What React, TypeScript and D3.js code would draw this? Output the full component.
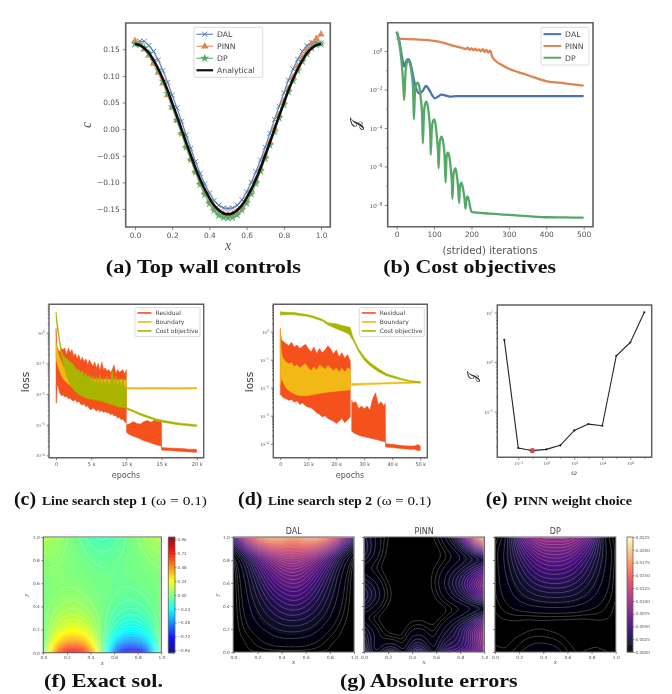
import { useEffect, useRef } from 'react';
import * as d3 from 'd3';

// (a) top wall controls
const wallX = [0,.025,.05,.075,.1,.125,.15,.175,.2,.225,.25,.275,.3,.325,.35,.375,.4,.425,.45,.475,.5,.525,.55,.575,.6,.625,.65,.675,.7,.725,.75,.775,.8,.825,.85,.875,.9,.925,.95,.975,1];
const wallDAL = [.160,.165,.165,.157,.146,.130,.110,.088,.064,.040,.015,-.011,-.036,-.061,-.083,-.103,-.120,-.134,-.143,-.148,-.149,-.148,-.143,-.133,-.118,-.100,-.080,-.058,-.034,-.008,.018,.043,.068,.092,.113,.131,.146,.157,.163,.164,.162];
const wallPINN = [.166,.160,.150,.138,.123,.106,.086,.064,.041,.017,-.007,-.032,-.056,-.079,-.100,-.118,-.134,-.147,-.155,-.159,-.160,-.159,-.155,-.146,-.132,-.115,-.095,-.073,-.049,-.024,.002,.027,.052,.076,.098,.118,.135,.148,.160,.170,.178];
const wallDP = [.160,.158,.153,.143,.129,.111,.090,.067,.042,.017,-.008,-.034,-.058,-.081,-.104,-.123,-.140,-.153,-.162,-.166,-.167,-.166,-.161,-.152,-.139,-.122,-.102,-.079,-.055,-.030,-.005,.021,.046,.070,.091,.110,.127,.141,.152,.158,.160];
const wallExact = [.160,.158,.152,.143,.129,.113,.094,.073,.049,.025,0,-.025,-.049,-.073,-.094,-.113,-.129,-.143,-.152,-.158,-.160,-.158,-.152,-.143,-.129,-.113,-.094,-.073,-.049,-.025,0,.025,.049,.073,.094,.113,.129,.143,.152,.158,.160];

// (b) cost objectives, log10 J
const dalIter = [0,5,10,15,20,25,30,35,40,45,50,60,70,78,85,95,102,110,120,130,142,160,200,300,400,500];
const dalLog = [1,.7,.2,-.4,-.8,-.55,-.43,-.52,-.9,-1.4,-1.82,-2.2,-2.07,-1.82,-1.96,-2.3,-2.46,-2.38,-2.27,-2.31,-2.37,-2.34,-2.34,-2.34,-2.34,-2.34];
const pinnIter = [0,50,100,125,150,175,185,190,195,200,205,210,215,220,225,230,235,240,245,250,255,265,280,300,325,350,375,400,450,500];
const pinnLog = [.64,.6,.52,.42,.28,.16,.1,.18,.06,.14,.04,.12,.02,.08,-.02,.1,-.05,.06,-.08,.02,-.28,-.52,-.72,-.92,-1.1,-1.25,-1.42,-1.56,-1.68,-1.8];
const dpIter = [0,5,10,15,18,20,24,28,31,36,41,44,46,49,52,56,60,64,68,70,73,76,79,83,87,90,91,94,97,100,104,108,111,112,115,118,120,124,128,131,133,135,137,141,145,148,149,152,155,157,160,164,167,169,171,173,177,181,184,186,188,190,194,200,250,300,350,400,450,500];
const dpLog = [1,.6,0,-1,-1.9,-2.55,-1.0,-.55,-.47,-.7,-1.3,-2,-3.55,-2.1,-1.75,-1.65,-1.8,-2.4,-3.3,-4.8,-3.2,-2.75,-2.63,-2.85,-3.5,-4.4,-5.4,-4,-3.65,-3.55,-3.8,-4.6,-5.4,-6.1,-4.8,-4.5,-4.45,-4.7,-5.4,-6.84,-5.6,-5.35,-5.28,-5.5,-6.2,-7,-7.69,-6.4,-6.15,-6.1,-6.35,-7,-7.9,-7.1,-6.9,-6.84,-7.1,-7.6,-8.2,-7.75,-7.6,-7.57,-7.85,-8.36,-8.45,-8.52,-8.58,-8.64,-8.65,-8.66];

// (c) line search step 1, log10 loss envelopes per epoch (thousands)
const cEpochs = [0,.08,.15,.3,.5,.75,1,1.25,1.5,1.75,2,2.25,2.5,2.75,3,3.25,3.5,3.75,4,4.25,4.5,4.75,5,5.25,5.5,5.75,6,6.25,6.5,6.75,7,7.25,7.5,7.75,8,8.25,8.5,8.75,9,9.25,9.5,9.75,10];
const cResUp = [.14,-.2,-.45,-.55,-.62,-.52,-.55,-.5,-.72,-.5,-.65,-.55,-.75,-.68,-.85,-.72,-.92,-.8,-.95,-.85,-1.05,-.88,-1,-1.1,-.95,-1.15,-1,-1.25,-.95,-1.2,-1.15,-1.25,-1.2,-1.3,-1.2,-1.05,-1.35,-1.2,-1.3,-1.25,-1.2,-1.35,-1.2];
const cResLo = [-2.27,-2.3,-1.7,-1.75,-1.95,-2.05,-2.03,-2.1,-2.08,-2.15,-2.13,-2.2,-2.23,-2.18,-2.28,-2.24,-2.33,-2.36,-2.32,-2.42,-2.38,-2.48,-2.52,-2.45,-2.5,-2.56,-2.5,-2.58,-2.54,-2.6,-2.57,-2.62,-2.6,-2.68,-2.64,-2.72,-2.7,-2.78,-2.76,-2.84,-2.82,-2.9,-2.96];
const cRes2Epochs = [10.02,10.4,11,11.5,12,12.5,13,13.5,14,14.5,15,15.02,16,17,18,19,20];
const cRes2Up = [-3,-2.98,-2.9,-2.96,-2.98,-2.9,-2.86,-2.92,-2.85,-2.9,-2.85,-3.74,-3.76,-3.77,-3.78,-3.8,-3.8];
const cRes2Lo = [-3.25,-3.32,-3.38,-3.42,-3.47,-3.52,-3.56,-3.6,-3.64,-3.67,-3.7,-3.83,-3.84,-3.86,-3.87,-3.89,-3.9];
const cBouUp = [-.3,-.4,-.5,-.65,-.8,-.95,-1.1,-1.1,-1.15,-1.18,-1.2,-1.22,-1.25,-1.27,-1.3,-1.35,-1.38,-1.4,-1.42,-1.45,-1.47,-1.48,-1.5,-1.5,-1.52,-1.5,-1.53,-1.5,-1.52,-1.54,-1.5,-1.54,-1.52,-1.54,-1.5,-1.54,-1.52,-1.55,-1.54,-1.53,-1.55,-1.54,-1.55];
const cBouLo = [-.8,-.9,-1,-1.1,-1.25,-1.4,-1.5,-1.56,-1.62,-1.67,-1.72,-1.76,-1.8,-1.83,-1.85,-1.87,-1.88,-1.88,-1.88,-1.87,-1.87,-1.87,-1.87,-1.87,-1.87,-1.87,-1.87,-1.87,-1.87,-1.87,-1.87,-1.87,-1.87,-1.87,-1.87,-1.87,-1.87,-1.87,-1.87,-1.87,-1.87,-1.87,-1.87];
const cBou2Epochs = [10.02,12,14,16,18,20];
const cBou2Up = [-1.79,-1.79,-1.79,-1.79,-1.79,-1.79];
const cBou2Lo = [-1.84,-1.84,-1.84,-1.84,-1.84,-1.84];
const cCostUp = [.68,.55,.4,.15,-.2,-.55,-.75,-.8,-.85,-.9,-.95,-1,-1.05,-1.15,-1.22,-1.2,-1.3,-1.25,-1.42,-1.3,-1.5,-1.35,-1.62,-1.4,-1.68,-1.45,-1.72,-1.38,-1.72,-1.5,-1.74,-1.42,-1.75,-1.58,-1.22,-1.75,-1.4,-1.76,-1.5,-1.76,-1.48,-1.76,-1.78];
const cCostLo = [.5,.3,.15,-.05,-.35,-.75,-1,-1.2,-1.4,-1.55,-1.68,-1.78,-1.85,-1.92,-1.97,-2.02,-2.05,-2.08,-2.1,-2.13,-2.15,-2.16,-2.17,-2.18,-2.19,-2.2,-2.21,-2.22,-2.24,-2.26,-2.28,-2.29,-2.31,-2.33,-2.35,-2.37,-2.39,-2.41,-2.42,-2.43,-2.44,-2.45,-2.47];
const cCost2Epochs = [10.02,11,12,13,14,15,16,17,18,19,20];
const cCost2Up = [-2.44,-2.53,-2.63,-2.71,-2.79,-2.85,-2.89,-2.93,-2.96,-2.98,-3];
const cCost2Lo = [-2.5,-2.59,-2.69,-2.77,-2.85,-2.91,-2.95,-2.99,-3.02,-3.04,-3.06];

// (d) line search step 2
const dEpochs = [0,.2,.5,1,2,3,4,5,6,7,8,9,10,11,12,13,14,15,16,17,18,19,20,21,22,23,24,25];
const dResUp = [.12,-.1,-.3,-.34,-.42,-.5,-.38,-.55,-.48,-.6,-.52,-.45,-.6,-.72,-.55,-.78,-.6,-.75,-.65,-.5,-.62,-.8,-.65,-.9,-.75,-.95,-.82,-1.05];
const dResLo = [-2.26,-2.25,-2.3,-2.35,-2.4,-2.45,-2.43,-2.52,-2.48,-2.6,-2.55,-2.65,-2.7,-2.72,-2.8,-2.9,-2.95,-3.05,-3,-3.1,-3.15,-3.2,-3.28,-3.2,-3.1,-3.25,-3.15,-3.05];
const dRes2Epochs = [25.5,26,27,28,29,30,31,32,33,34,35,36,37,37.5,37.6,40,42,44,46,48,49,50];
const dRes2Up = [-2.45,-2.55,-2.5,-2.75,-2.65,-2.75,-2.65,-2.8,-2.4,-2.18,-2.6,-2.5,-2.65,-2.55,-4,-4.02,-4.05,-4.07,-4.08,-4.08,-4.03,-4.08];
const dRes2Lo = [-3.55,-3.6,-3.65,-3.7,-3.73,-3.75,-3.78,-3.8,-3.82,-3.85,-3.87,-3.9,-3.92,-3.93,-4.12,-4.14,-4.16,-4.18,-4.2,-4.2,-4.24,-4.24];
const dBouUp = [.06,-.5,-.8,-.95,-1.08,-1.15,-1.1,-1.25,-1.18,-1.3,-1.2,-1.15,-1.3,-1.4,-1.25,-1.38,-1.2,-1.25,-1.35,-1.2,-1.3,-1.4,-1.3,-1.45,-1.3,-1.45,-1.3,-1.35];
const dBouLo = [-1.9,-1.75,-1.7,-1.8,-2,-2.1,-2.17,-2.22,-2.26,-2.28,-2.29,-2.29,-2.28,-2.26,-2.24,-2.22,-2.21,-2.19,-2.17,-2.16,-2.15,-2.14,-2.13,-2.12,-2.11,-2.1,-2.09,-2.07];
const dBou2Epochs = [25.5,30,35,40,45,50];
const dBou2Up = [-1.85,-1.84,-1.83,-1.81,-1.8,-1.79];
const dBou2Lo = [-1.92,-1.9,-1.88,-1.86,-1.85,-1.83];
const dCostEpochs = [0,.5,5,10,12,15,17,20,22,24,25,25.5,26,27,28,30,32,35,38,40,43,46,50];
const dCostUp = [.72,.7,.68,.6,.55,.44,.32,.28,.22,.18,.15,-.05,-.2,-.42,-.62,-.9,-1.1,-1.32,-1.5,-1.57,-1.66,-1.74,-1.79];
const dCostLo = [.58,.6,.6,.54,.48,.38,.24,.1,.02,-.06,-.15,-.25,-.32,-.52,-.72,-1.02,-1.22,-1.43,-1.58,-1.64,-1.72,-1.78,-1.84];

// (e) PINN weight choice
const omegaValues = [1e-3,1e-2,1e-1,1e0,1e1,1e2,1e3,1e4,1e5,1e6,1e7];
const weightJ = [2.8,.0185,.0164,.0174,.0209,.0419,.0561,.052,1.34,2.48,10.1];

// fields in the bottom row: rows bottom to top at fieldRows, 13 columns across x
const fieldRows = [0,.03,.07,.12,.18,.25,.33,.42,.52,.63,.75,.87,1];
const exactField = [
  [0,.5,.87,1,.87,.5,0,-.5,-.87,-1,-.87,-.5,0],
  [0,.42,.72,.83,.72,.42,0,-.42,-.72,-.83,-.72,-.42,0],
  [0,.33,.57,.66,.57,.33,0,-.33,-.57,-.66,-.57,-.33,0],
  [0,.23,.4,.46,.4,.23,0,-.23,-.4,-.46,-.4,-.23,0],
  [0,.15,.26,.3,.26,.15,0,-.15,-.26,-.3,-.26,-.15,0],
  [.01,.1,.17,.2,.17,.1,0,-.1,-.17,-.2,-.17,-.1,.01],
  [.01,.07,.11,.13,.11,.06,0,-.07,-.11,-.13,-.11,-.06,.01],
  [.01,.04,.07,.08,.06,.03,0,-.04,-.07,-.08,-.06,-.03,.01],
  [.01,.02,.04,.04,.03,.01,-.01,-.02,-.04,-.04,-.03,-.01,.01],
  [.01,.02,.02,.02,.01,0,-.01,-.02,-.02,-.02,-.01,0,.01],
  [.03,.03,.02,.01,0,-.02,-.03,-.03,-.02,-.01,0,.02,.03],
  [.06,.05,.03,.01,-.02,-.05,-.06,-.05,-.03,-.01,.02,.05,.06],
  [.1,.085,.05,0,-.05,-.085,-.1,-.085,-.05,0,.05,.085,.1],
];
// error fields, in thousandths
const dalField = [
  [.3,.2,.1,0,0,0,0,0,0,.1,.2,.3,.3],
  [.1,.1,.1,.1,.1,.1,.1,.1,.1,.1,.1,.1,.1],
  [0,.1,.2,.3,.4,.4,.4,.4,.3,.2,.1,0,0],
  [0,.1,.3,.5,.6,.7,.7,.7,.5,.3,.1,.1,0],
  [0,.2,.4,.7,1,1.2,1.2,1.1,.9,.5,.2,.1,0],
  [0,.3,.7,1.1,1.5,1.8,1.9,1.8,1.4,.9,.4,.1,0],
  [0,.4,1,1.6,2.2,2.7,2.8,2.6,2.1,1.4,.7,.2,0],
  [0,.5,1.3,2.2,3,3.6,3.9,3.6,2.9,2,1,.3,0],
  [0,.6,1.7,2.9,4,4.8,5.2,4.8,3.8,2.6,1.4,.4,0],
  [0,.7,2.2,3.8,5.4,6.4,6.8,6.3,5,3.4,1.8,.5,0],
  [0,1,3,5.4,7.2,8.4,8.8,8.2,6.8,4.9,2.6,.8,0],
  [.3,2.2,5.4,8.4,10.4,11.4,11.6,11.2,9.8,7.6,4.6,1.8,.3],
  [5,10,15.5,18.5,19.5,19,17.5,19,19.5,18,14.5,9,4],
];
const pinnField = [
  [8,.1,6,7,.1,9,7,.1,8,7,9,10,10],
  [5,.1,3,4,.1,5.5,4.5,.1,5,4.5,6,8,9],
  [3.5,.1,1.6,2,.1,3.5,2.8,.1,3.5,3.5,4.5,6,8.5],
  [3,.5,.8,.8,.1,2.2,1.8,.1,2.6,3,4,6,9],
  [2.5,.9,.2,.1,.05,1.1,.9,.05,1.6,2.4,3.8,6.5,9.5],
  [1.6,.5,.05,0,.02,.4,.35,.02,.8,2,3.5,6,8.5],
  [.2,.05,0,0,0,.02,.02,0,.1,.6,1.2,2.4,3.5],
  [1.8,.8,.1,0,0,0,0,0,0,.1,.15,.2,.2],
  [3.5,2,.5,.02,0,0,0,.1,.6,1.5,3,5,7],
  [1.8,1,.15,0,0,0,0,.2,1,2.6,4.4,6.8,9.5],
  [.1,.05,0,0,0,0,0,.1,.4,1,1.8,2.8,3.5],
  [2.8,1,.1,0,0,0,0,0,.05,.2,.5,.9,1.2],
  [2.2,1,.2,0,0,0,0,.1,.6,2.4,6,13,22],
];
const dpField = [
  [1,.3,.6,1,1.2,1.3,1.1,.6,.1,.3,.5,.3,.1],
  [.4,.2,.4,.7,.9,1,.8,.4,.1,.2,.3,.2,.1],
  [.2,.1,.3,.5,.7,.7,.6,.3,.1,.1,.2,.1,.1],
  [.1,.1,.2,.4,.5,.5,.4,.2,.05,.05,.1,.05,0],
  [0,.05,.1,.2,.3,.25,.2,.1,0,0,.05,0,0],
  [0,0,.05,.05,.1,.1,.05,.02,0,0,0,.02,.05],
  [.1,.2,.2,.1,.1,.1,.1,.1,.1,.1,.2,.2,.1],
  [.2,.4,.6,.8,.9,1,1,1,.9,.7,.5,.3,.1],
  [.3,.6,1.1,1.6,2,2.2,2.3,2.2,2,1.5,1,.5,.2],
  [.3,.8,1.6,2.5,3.2,3.6,3.7,3.6,3.1,2.4,1.5,.7,.2],
  [.3,1,2.2,3.5,4.6,5.2,5.3,5.1,4.5,3.4,2.1,.9,.2],
  [.4,1.1,2.9,4.8,6.2,7,7.2,7,6.1,4.6,2.8,1,.3],
  [.2,.5,4,7.5,9.2,9.8,9.5,9.8,9.2,7.5,4,.5,.2],
];

const jetStops = ['#00007f','#0000ff','#007fff','#00ffff','#7fff7f','#ffff00','#ff7f00','#ff0000','#7f0000'];
const jetTicks = [.96,.72,.48,.24,0,-.24,-.48,-.72,-.96];
const magmaTicks = [0,.0025,.005,.0075,.01,.0125,.015,.0175,.02,.0225];
const unitTicks = [0,.2,.4,.6,.8,1];

const SANS = 'DejaVu Sans';
const SERIF = 'Liberation Serif';
const INK = '#555';
const BLUE = '#4c72b0', ORANGE = '#dd8452', GREEN = '#55a868';
const RES = '#f4511e', BOU = '#f2b817', COST = '#a8b400';

type G = d3.Selection<any, any, any, any>;

function frame(g: G, x: any, y: any, width = 1.6) {
  const [x0, x1] = x.range();
  const [y1, y0] = y.range();
  const p = d3.path();
  p.rect(x0, y0, x1 - x0, y1 - y0);
  g.append('path').attr('d', p.toString()).attr('fill', 'none').attr('stroke', '#606060').attr('stroke-width', width);
}

function styleAxis(a: G, size: number, font = SANS) {
  a.select('.domain').remove();
  a.selectAll('line').attr('stroke', INK).attr('stroke-width', .7);
  a.selectAll('text').attr('fill', INK).attr('font-size', size).attr('font-family', font);
}

function powerLabels(a: G, size: number) {
  a.selectAll('text').each(function (this: any) {
    const t = d3.select(this);
    const e = t.text();
    t.text('10');
    t.append('tspan').attr('dy', '-.4em').attr('font-size', size * .72).text(e);
  });
}

function label(g: G, text: string, x: number, y: number, size: number, opts: any = {}) {
  const t = g.append('text').attr('x', x).attr('y', y).attr('font-size', size)
    .attr('text-anchor', opts.anchor ?? 'middle')
    .attr('font-family', opts.font ?? SANS).attr('fill', opts.fill ?? INK)
    .attr('font-style', opts.italic ? 'italic' : 'normal')
    .attr('font-weight', opts.bold ? 'bold' : 'normal')
    .text(text);
  if (opts.rotate) t.attr('transform', `rotate(-90 ${x} ${y})`);
  if (opts.width) t.attr('textLength', opts.width).attr('lengthAdjust', 'spacingAndGlyphs');
  return t;
}

function caption(g: G, tag: string, rest: string, tagX: number, tagW: number, restX: number, restW: number, y: number) {
  label(g, tag, tagX, y, 18, { anchor: 'start', font: SERIF, bold: true, fill: '#111', width: tagW });
  label(g, rest, restX, y, 12.5, { anchor: 'start', font: SERIF, bold: true, fill: '#111', width: restW });
}

function legend(g: G, box: number[], font: number, rows: any[], gap: number) {
  const [x, y, w, h] = box;
  g.append('rect').attr('x', x).attr('y', y).attr('width', w).attr('height', h).attr('rx', 1.5)
    .attr('fill', '#fff').attr('fill-opacity', .85).attr('stroke', '#ccc').attr('stroke-width', .7);
  rows.forEach((r, i) => {
    const cy = y + gap * (i + .58);
    g.append('line').attr('x1', x + 2.5).attr('x2', x + 2.5 + r.len).attr('y1', cy).attr('y2', cy)
      .attr('stroke', r.color).attr('stroke-width', r.lw).attr('stroke-opacity', r.alpha ?? 1);
    if (r.draw) r.draw(g.append('g').attr('transform', `translate(${x + 2.5 + r.len / 2},${cy})`));
    label(g, r.name, x + 2.5 + r.len + 4, cy + font * .36, font, { anchor: 'start', fill: '#444' });
  });
}

function wallSeries(g: G, x: any, y: any, values: number[], color: string, symbol: any, size: number, stroke: boolean) {
  const line = d3.line<number>().x((_, i) => x(wallX[i])).y(d => y(d));
  g.append('path').attr('d', line(values)).attr('fill', 'none').attr('stroke', color).attr('stroke-opacity', .85).attr('stroke-width', 1.3);
  const sym = d3.symbol().type(symbol).size(size)();
  values.forEach((d, i) => {
    g.append('path').attr('d', sym).attr('transform', `translate(${x(wallX[i])},${y(d)})`)
      .attr('fill', stroke ? 'none' : color).attr('stroke', stroke ? color : 'none').attr('stroke-width', .9).attr('fill-opacity', .9);
  });
}

function drawWall(g: G) {
  const x = d3.scaleLinear().domain([-.05, 1.05]).range([125.7, 330.3]);
  const y = d3.scaleLinear().domain([-.1838, .1994]).range([227, 23]);
  wallSeries(g, x, y, wallDAL, BLUE, d3.symbolX, 18, true);
  wallSeries(g, x, y, wallPINN, ORANGE, d3.symbolTriangle, 24, false);
  wallSeries(g, x, y, wallDP, GREEN, d3.symbolStar, 24, false);
  g.append('path').attr('d', d3.line<number>().x((_, i) => x(wallX[i])).y(d => y(d)).curve(d3.curveCatmullRom)(wallExact))
    .attr('fill', 'none').attr('stroke', '#111').attr('stroke-width', 2.5);
  frame(g, x, y);
  const ax = g.append('g').attr('transform', 'translate(0,227)').call(d3.axisBottom(x).tickValues(unitTicks).tickFormat(d3.format('.1f') as any).tickSize(3).tickPadding(3));
  styleAxis(ax, 7.4);
  const ay = g.append('g').attr('transform', 'translate(125.7,0)').call(d3.axisLeft(y).tickValues([-.15,-.1,-.05,0,.05,.1,.15]).tickFormat(d3.format('.2f') as any).tickSize(3).tickPadding(3));
  styleAxis(ay, 7.4);
  label(g, 'c', 91, 125, 14, { font: SERIF, italic: true, rotate: true });
  label(g, 'x', 228, 250, 14, { font: SERIF, italic: true });
  const mark = (t: any, s: number, filled: boolean, c: string) => (n: G) => n.append('path').attr('d', d3.symbol().type(t).size(s)()).attr('fill', filled ? c : 'none').attr('stroke', filled ? 'none' : c).attr('stroke-width', .9);
  legend(g, [194, 27.3, 68.7, 50], 7.7, [
    { name: 'DAL', color: BLUE, lw: 1.2, len: 16.5, alpha: .85, draw: mark(d3.symbolX, 18, false, BLUE) },
    { name: 'PINN', color: ORANGE, lw: 1.2, len: 16.5, alpha: .85, draw: mark(d3.symbolTriangle, 24, true, ORANGE) },
    { name: 'DP', color: GREEN, lw: 1.2, len: 16.5, alpha: .85, draw: mark(d3.symbolStar, 24, true, GREEN) },
    { name: 'Analytical', color: '#111', lw: 2.2, len: 16.5 },
  ], 12);
}

function drawCost(g: G) {
  const x = d3.scaleLinear().domain([-24, 525]).range([387.7, 593]);
  const y = d3.scaleLog().domain([10 ** -9.13, 10 ** 1.47]).range([226.7, 22.7]);
  const curve = (it: number[], log: number[], color: string) => g.append('path')
    .attr('d', d3.line<number>().x(d => x(d)).y((_, i) => y(10 ** log[i])).curve(d3.curveMonotoneX)(it))
    .attr('fill', 'none').attr('stroke', color).attr('stroke-width', 2.3);
  curve(dalIter, dalLog, BLUE);
  curve(pinnIter, pinnLog, ORANGE);
  curve(dpIter, dpLog, GREEN);
  frame(g, x, y);
  const ax = g.append('g').attr('transform', 'translate(0,226.7)').call(d3.axisBottom(x).tickValues([0,100,200,300,400,500]).tickSize(3).tickPadding(2.5));
  styleAxis(ax, 7.4);
  const ay = g.append('g').attr('transform', 'translate(387.7,0)').call(d3.axisLeft(y).tickValues([1,.01,1e-4,1e-6,1e-8]).tickFormat((d: any) => String(Math.round(Math.log10(d))).replace('-', '−')).tickSize(3).tickPadding(2.5));
  styleAxis(ay, 7, SERIF);
  powerLabels(ay, 7);
  g.append('g').attr('transform', 'translate(387.7,0)').call(d3.axisLeft(y).tickValues([.1,.001,1e-5,1e-7]).tickFormat(() => '').tickSize(1.5)).call((s: G) => styleAxis(s, 1));
  label(g, '𝒥', 361, 125, 15, { font: 'DejaVu Serif', rotate: true, fill: '#333' });
  label(g, '(strided) iterations', 490, 254, 10.2);
  legend(g, [541, 27.3, 48, 37.7], 7.7, [
    { name: 'DAL', color: BLUE, lw: 2, len: 17.6 },
    { name: 'PINN', color: ORANGE, lw: 2, len: 17.6 },
    { name: 'DP', color: GREEN, lw: 2, len: 17.6 },
  ], 11.8);
}

function lossPanel(g: G, box: number[], xMax: number, xTicks: number[], logDomain: number[], bands: any[], legendX: number) {
  const [x0, x1] = box;
  const x = d3.scaleLinear().domain([-xMax * .05, xMax * 1.05]).range([x0, x1]);
  const y = d3.scaleLog().domain(logDomain.map(d => 10 ** d)).range([457.7, 304.3]);
  bands.forEach(b => {
    const area = d3.area<number>().x(d => x(d)).y0((_, i) => y(10 ** b.lo[i])).y1((_, i) => y(10 ** b.up[i]));
    g.append('path').attr('d', area(b.epochs)).attr('fill', b.color).attr('stroke', b.color).attr('stroke-width', .5);
  });
  frame(g, x, y, 1.4);
  const ax = g.append('g').attr('transform', 'translate(0,457.7)').call(d3.axisBottom(x).tickValues(xTicks).tickFormat((d: any) => (d === 0 ? '0' : `${d} k`)).tickSize(2.5).tickPadding(2));
  styleAxis(ax, 5);
  const ay = g.append('g').attr('transform', `translate(${x0},0)`).call(d3.axisLeft(y).tickValues([1,.1,.01,.001,1e-4]).tickFormat((d: any) => String(Math.round(Math.log10(d))).replace('-', '−')).tickSize(2.5).tickPadding(2));
  styleAxis(ay, 5, SERIF);
  powerLabels(ay, 5);
  const minor = [2,3,4,5,6,7,8,9].flatMap(m => [1e-4,1e-3,1e-2,.1,1].map(p => m * p)).filter(v => v < 10 ** logDomain[1] && v > 10 ** logDomain[0]);
  g.append('g').attr('transform', `translate(${x0},0)`).call(d3.axisLeft(y).tickValues(minor).tickFormat(() => '').tickSize(1.3)).call((s: G) => styleAxis(s, 1));
  legend(g, [legendX, 307.7, 65, 29], 6, [
    { name: 'Residual', color: RES, lw: 1.6, len: 14 },
    { name: 'Boundary', color: BOU, lw: 1.6, len: 14 },
    { name: 'Cost objective', color: COST, lw: 1.6, len: 14 },
  ], 9);
}

function drawWeight(g: G) {
  const xs = d3.scaleLog().domain([1e-3, 1e7]).range([504.3, 644.3]);
  const y = d3.scaleLog().domain([10 ** -1.92, 10 ** 1.15]).range([457.3, 305]);
  g.append('path').attr('d', d3.line<number>().x(d => xs(d)).y((_, i) => y(weightJ[i]))(omegaValues))
    .attr('fill', 'none').attr('stroke', '#222').attr('stroke-width', 1.1);
  omegaValues.forEach((w, i) => g.append('circle').attr('cx', xs(w)).attr('cy', y(weightJ[i])).attr('r', i === 2 ? 2.6 : 1.1).attr('fill', i === 2 ? '#c44e52' : '#222'));
  frame(g, { range: () => [497.3, 651.7] }, { range: () => [457.3, 305] }, 1.5);
  const ax = g.append('g').attr('transform', 'translate(0,457.3)').call(d3.axisBottom(xs).tickValues([.01,1,100,1e4,1e6]).tickFormat((d: any) => String(Math.round(Math.log10(d))).replace('-', '−')).tickSize(2.5).tickPadding(2));
  styleAxis(ax, 5, SERIF);
  powerLabels(ax, 5);
  g.append('g').attr('transform', 'translate(0,457.3)').call(d3.axisBottom(xs).tickValues([.1,10,1000,1e5,1e7]).tickFormat(() => '').tickSize(1.5)).call((s: G) => styleAxis(s, 1));
  const ay = g.append('g').attr('transform', 'translate(497.3,0)').call(d3.axisLeft(y).tickValues([.1,1,10]).tickFormat((d: any) => String(Math.round(Math.log10(d))).replace('-', '−')).tickSize(2.5).tickPadding(2));
  styleAxis(ay, 5, SERIF);
  powerLabels(ay, 5);
  const minor = [2,3,4,5,6,7,8,9].flatMap(m => [.01,.1,1].map(p => m * p)).filter(v => v > 10 ** -1.92);
  g.append('g').attr('transform', 'translate(497.3,0)').call(d3.axisLeft(y).tickValues(minor).tickFormat(() => '').tickSize(1.3)).call((s: G) => styleAxis(s, 1));
  label(g, '𝒥', 477, 377, 13, { font: 'DejaVu Serif', rotate: true, fill: '#333' });
  label(g, 'ω', 574, 475, 8, { font: SERIF, italic: true });
}

// the read grid is rendered through B-spline resampling, like imshow's smooth interpolation
function resample(grid: number[][], n: number) {
  const rowIndex = d3.scaleLinear().domain(fieldRows).range(d3.range(fieldRows.length));
  const rows = grid.map(r => d3.interpolateBasis(r));
  const out = new Array(n * n);
  for (let i = 0; i < n; i++) {
    const t = i / (n - 1);
    const col = d3.interpolateBasis(rows.map(f => f(t)));
    for (let j = 0; j < n; j++) {
      const yy = 1 - j / (n - 1);
      out[j * n + i] = col(rowIndex(yy) / (fieldRows.length - 1));
    }
  }
  return out;
}

function heat(g: G, id: string, box: number[], grid: number[][], scale: number, color: (v: number) => string, fills: number[], lines: number[], lineColor: string, lineOpacity: number) {
  const [x0, x1, y0, y1] = box;
  const n = 110;
  const values = resample(grid, n).map((v: number) => v * scale);
  const path = d3.geoPath(d3.geoIdentity().scale((x1 - x0) / n).translate([x0, y0]) as any);
  const clip = g.append('clipPath').attr('id', id);
  clip.append('rect').attr('x', x0).attr('y', y0).attr('width', x1 - x0).attr('height', y1 - y0);
  const p = g.append('g').attr('clip-path', `url(#${id})`);
  p.append('rect').attr('x', x0).attr('y', y0).attr('width', x1 - x0).attr('height', y1 - y0).attr('fill', color(fills[0]));
  d3.contours().size([n, n]).thresholds(fills)(values).forEach(c => {
    p.append('path').attr('d', path(c as any)).attr('fill', color(c.value));
  });
  d3.contours().size([n, n]).thresholds(lines)(values).forEach(c => {
    p.append('path').attr('d', path(c as any)).attr('fill', 'none').attr('stroke', lineColor).attr('stroke-opacity', lineOpacity).attr('stroke-width', .5);
  });
}

function fieldAxes(g: G, box: number[], showY: boolean) {
  const [x0, x1, y0, y1] = box;
  const x = d3.scaleLinear().domain([0, 1]).range([x0, x1]);
  const y = d3.scaleLinear().domain([0, 1]).range([y1, y0]);
  frame(g, x, y, 1.1);
  const ax = g.append('g').attr('transform', `translate(0,${y1})`).call(d3.axisBottom(x).tickValues(unitTicks).tickFormat(d3.format('.1f') as any).tickSize(2).tickPadding(1.5));
  styleAxis(ax, 4.3);
  const ay = g.append('g').attr('transform', `translate(${x0},0)`).call(d3.axisLeft(y).tickValues(unitTicks).tickFormat(showY ? (d3.format('.1f') as any) : () => '').tickSize(2).tickPadding(1.5));
  styleAxis(ay, 4.3);
  label(g, 'x', (x0 + x1) / 2, y1 + 12, 7, { font: SERIF, italic: true });
}

function colorbar(g: G, box: number[], domain: number[], color: (v: number) => string, ticks: number[], fmt: (d: number) => string) {
  const [x0, x1, y0, y1] = box;
  const y = d3.scaleLinear().domain(domain).range([y1, y0]);
  d3.range(y0, y1, .5).forEach(py => {
    g.append('rect').attr('x', x0).attr('y', py).attr('width', x1 - x0).attr('height', .8).attr('fill', color(y.invert(py + .25)));
  });
  frame(g, { range: () => [x0, x1] }, { range: () => [y1, y0] }, .8);
  const a = g.append('g').attr('transform', `translate(${x1},0)`).call(d3.axisRight(y).tickValues(ticks).tickFormat(fmt as any).tickSize(1.5).tickPadding(1));
  styleAxis(a, 4.1);
}

function drawFields(g: G) {
  const jet = d3.scaleLinear<number>().domain([-1, 1]).range([0, 1]);
  const jetRamp = d3.piecewise(d3.interpolateRgb, jetStops);
  const jetColor = (v: number) => jetRamp(jet(v));
  const magma = (v: number) => d3.interpolateMagma(Math.max(0, Math.min(1, v / .0225)));
  const jetFills = d3.range(-1, 1.001, .02);
  const jetLines = d3.range(-.99, 1, .03).filter(v => Math.abs(v) > .005);
  const magmaFills = d3.range(0, .0226, .00025);
  const magmaLines = [.00015, .0003].concat(d3.range(.0005, .0226, .0005));

  const fBox = [43.3, 161.3, 537, 652.7];
  heat(g, 'clipF', fBox, exactField, 1, jetColor, jetFills, jetLines, '#fff', .5);
  fieldAxes(g, fBox, true);
  label(g, 'y', 28, 595, 7, { font: SERIF, italic: true, rotate: true });
  colorbar(g, [168.3, 175, 537, 652.7], [-1, 1], jetColor, jetTicks, (d: number) => d3.format('.2f')(d).replace('-', '−'));

  const panels: [string, number[], number[][]][] = [
    ['DAL', [233.3, 354, 537, 652], dalField],
    ['PINN', [364, 484.3, 537, 652], pinnField],
    ['DP', [495, 615.7, 537, 652], dpField],
  ];
  panels.forEach(([name, box, grid], i) => {
    heat(g, 'clip' + name, box, grid, .001, magma, magmaFills, magmaLines, '#ccc', .6);
    fieldAxes(g, box, i === 0);
    label(g, name, (box[0] + box[1]) / 2, 534, 8, { fill: '#444' });
  });
  label(g, 'y', 219, 595, 7, { font: SERIF, italic: true, rotate: true });
  colorbar(g, [627, 633, 537, 652], [0, .0225], magma, magmaTicks, (d: number) => d3.format('.4f')(d));
}

export default function App() {
  const svgRef = useRef<SVGSVGElement>(null);

  useEffect(() => {
    const svg = d3.select(svgRef.current);
    svg.selectAll('*').remove();
    // the source figure is a downscaled raster, so plots get a faint blur
    svg.append('filter').attr('id', 'soft').attr('filterUnits', 'userSpaceOnUse')
      .attr('x', 0).attr('y', 0).attr('width', 672).attr('height', 694)
      .append('feGaussianBlur').attr('stdDeviation', .35);
    const g = svg.append('g').attr('filter', 'url(#soft)');
    const titles = svg.append('g');

    drawWall(g);
    drawCost(g);

    lossPanel(g, [49, 203.7], 20, [0,5,10,15,20], [-4.076, .924], [
      { epochs: cEpochs, up: cResUp, lo: cResLo, color: RES },
      { epochs: cRes2Epochs, up: cRes2Up, lo: cRes2Lo, color: RES },
      { epochs: cEpochs, up: cBouUp, lo: cBouLo, color: BOU },
      { epochs: cBou2Epochs, up: cBou2Up, lo: cBou2Lo, color: BOU },
      { epochs: cEpochs, up: cCostUp, lo: cCostLo, color: COST },
      { epochs: cCost2Epochs, up: cCost2Up, lo: cCost2Lo, color: COST },
    ], 135);
    label(g, 'loss', 29, 382, 10.5, { rotate: true, fill: '#333' });
    label(g, 'epochs', 126, 478, 8);

    lossPanel(g, [273.3, 427.3], 50, [0,10,20,30,40,50], [-4.5, .976], [
      { epochs: dEpochs, up: dResUp, lo: dResLo, color: RES },
      { epochs: dRes2Epochs, up: dRes2Up, lo: dRes2Lo, color: RES },
      { epochs: dEpochs, up: dBouUp, lo: dBouLo, color: BOU },
      { epochs: dBou2Epochs, up: dBou2Up, lo: dBou2Lo, color: BOU },
      { epochs: dCostEpochs, up: dCostUp, lo: dCostLo, color: COST },
    ], 359.3);
    label(g, 'loss', 253, 382, 10.5, { rotate: true, fill: '#333' });
    label(g, 'epochs', 350, 478, 8);

    drawWeight(g);
    drawFields(g);

    const bold = { anchor: 'start', font: SERIF, bold: true, fill: '#111' };
    label(titles, '(a) Top wall controls', 105.7, 273, 18, { ...bold, width: 195.3 });
    label(titles, '(b) Cost objectives', 383.3, 273, 18, { ...bold, width: 172.7 });
    caption(titles, '(c)', 'Line search step 1', 14, 22, 42, 105, 505);
    label(titles, '(ω = 0.1)', 151, 505, 12.5, { anchor: 'start', font: SERIF, fill: '#111', width: 56 });
    caption(titles, '(d)', 'Line search step 2', 238, 24.5, 268, 104, 505);
    label(titles, '(ω = 0.1)', 376.7, 505, 12.5, { anchor: 'start', font: SERIF, fill: '#111', width: 54.5 });
    caption(titles, '(e)', 'PINN weight choice', 485.7, 22, 514, 118, 505);
    label(titles, '(f) Exact sol.', 44, 687, 18, { ...bold, width: 119 });
    label(titles, '(g) Absolute errors', 340, 687, 18, { ...bold, width: 177.7 });
  }, []);

  return <svg ref={svgRef} width={672} height={694} style={{ position: 'absolute', left: 0, top: 0, background: '#fff' }} />;
}
